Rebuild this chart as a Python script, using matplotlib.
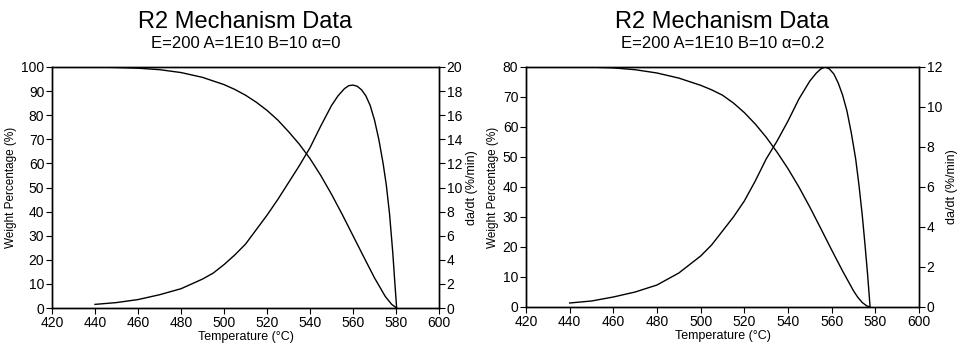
import matplotlib
matplotlib.use("Agg")
import matplotlib.pyplot as plt

# ---------------- data ----------------
titles = ["R2 Mechanism Data", "R2 Mechanism Data"]
subtitles = ["E=200 A=1E10 B=10 \u03b1=0", "E=200 A=1E10 B=10 \u03b1=0.2"]

# Left panel (alpha = 0)
w1_T = [420, 440, 450, 460, 470, 480, 490, 500, 505, 510, 515, 520, 525, 530,
        535, 540, 545, 550, 555, 560, 565, 570, 575, 578, 580.3]
w1_W = [100, 100, 99.8, 99.5, 98.9, 97.7, 95.7, 92.7, 90.7, 88.3, 85.4, 82.0,
        78.0, 73.2, 68.0, 62.0, 55.0, 47.2, 38.8, 30.0, 21.2, 12.5, 4.8, 1.5,
        0.0]
r1_T = [440, 450, 460, 470, 480, 490, 495, 500, 505, 510, 515, 520, 525, 530,
        535, 540, 545, 550, 553, 556, 558, 560, 562, 564, 566, 568, 570, 572,
        574, 575.5, 577, 578.5, 579.5, 580.3]
r1_R = [0.3, 0.45, 0.7, 1.1, 1.6, 2.4, 2.9, 3.6, 4.4, 5.3, 6.5, 7.7, 9.0, 10.4,
        11.8, 13.3, 15.1, 16.8, 17.6, 18.2, 18.45, 18.5, 18.4, 18.1, 17.6, 16.8,
        15.6, 14.0, 12.0, 10.2, 7.8, 4.6, 2.0, 0.0]

# Right panel (alpha = 0.2)
w2_T = [420, 440, 450, 460, 470, 480, 490, 500, 505, 510, 515, 520, 525, 530,
        535, 540, 545, 550, 555, 560, 565, 570, 572, 574, 576, 577.6]
w2_W = [80, 80, 79.95, 79.7, 79.1, 78.0, 76.3, 73.9, 72.4, 70.6, 68.0, 64.8,
        61.0, 56.6, 51.6, 46.1, 40.0, 33.3, 26.2, 19.0, 12.0, 5.4, 3.2, 1.5,
        0.4, 0.0]
r2_T = [440, 450, 460, 470, 480, 490, 500, 505, 510, 515, 520, 525, 530, 535,
        540, 545, 550, 553, 555, 557, 559, 561, 563, 565, 567, 569, 571, 572.5,
        574, 575.2, 576.4, 577.6]
r2_R = [0.2, 0.3, 0.5, 0.75, 1.1, 1.7, 2.55, 3.1, 3.8, 4.5, 5.3, 6.3, 7.4, 8.3,
        9.3, 10.4, 11.3, 11.7, 11.9, 12.0, 11.9, 11.65, 11.2, 10.6, 9.8, 8.7,
        7.4, 6.1, 4.6, 3.2, 1.7, 0.0]

x_ticks = [420, 440, 460, 480, 500, 520, 540, 560, 580, 600]
left_ticks = [list(range(0, 101, 10)), list(range(0, 81, 10))]
right_ticks = [list(range(0, 21, 2)), list(range(0, 13, 2))]
left_lims = [100, 80]
right_lims = [20, 12]

xlabel = "Temperature (\u00b0C)"
ylabel_left = "Weight Percentage (%)"
ylabel_right = "da/dt (%/min)"

# ---------------- figure ----------------
plt.rcParams['font.family'] = ['Liberation Sans', 'DejaVu Sans']
W, H = 963, 346
fig = plt.figure(figsize=(W / 100, H / 100), dpi=100)

def frac_rect(x0, x1, ytop, ybot):
    return [x0 / W, 1 - ybot / H, (x1 - x0) / W, (ybot - ytop) / H]

rects = [frac_rect(52, 439, 67, 308), frac_rect(526, 919, 67, 307)]
series = [(w1_T, w1_W, r1_T, r1_R), (w2_T, w2_W, r2_T, r2_R)]

for i in range(2):
    ax = fig.add_axes(rects[i])
    ax2 = ax.twinx()
    wT, wW, rT, rR = series[i]
    ax.plot(wT, wW, color='black', lw=1.0)
    ax2.plot(rT, rR, color='black', lw=1.0)
    ax.set_xlim(420, 600)
    ax.set_ylim(0, left_lims[i])
    ax2.set_ylim(0, right_lims[i])
    ax.set_xticks(x_ticks)
    ax.set_yticks(left_ticks[i])
    ax2.set_yticks(right_ticks[i])
    for a in (ax, ax2):
        a.tick_params(direction='out', length=4, width=0.8, labelsize=10,
                      pad=1.5, colors='black')
        for s in a.spines.values():
            s.set_linewidth(1.0)
            s.set_color('black')
    ax.set_xlabel(xlabel, fontsize=9, labelpad=1)
    ax.set_ylabel(ylabel_left, fontsize=8.5, labelpad=3)
    ax2.set_ylabel(ylabel_right, fontsize=9, labelpad=3)
    cx = (rects[i][0] + rects[i][2] / 2)
    fig.text(cx, 1 - 22 / H, titles[i], ha='center', va='center', fontsize=17)
    fig.text(cx, 1 - 43 / H, subtitles[i], ha='center', va='center', fontsize=12)

fig.savefig("out.png", dpi=100, facecolor='white')
